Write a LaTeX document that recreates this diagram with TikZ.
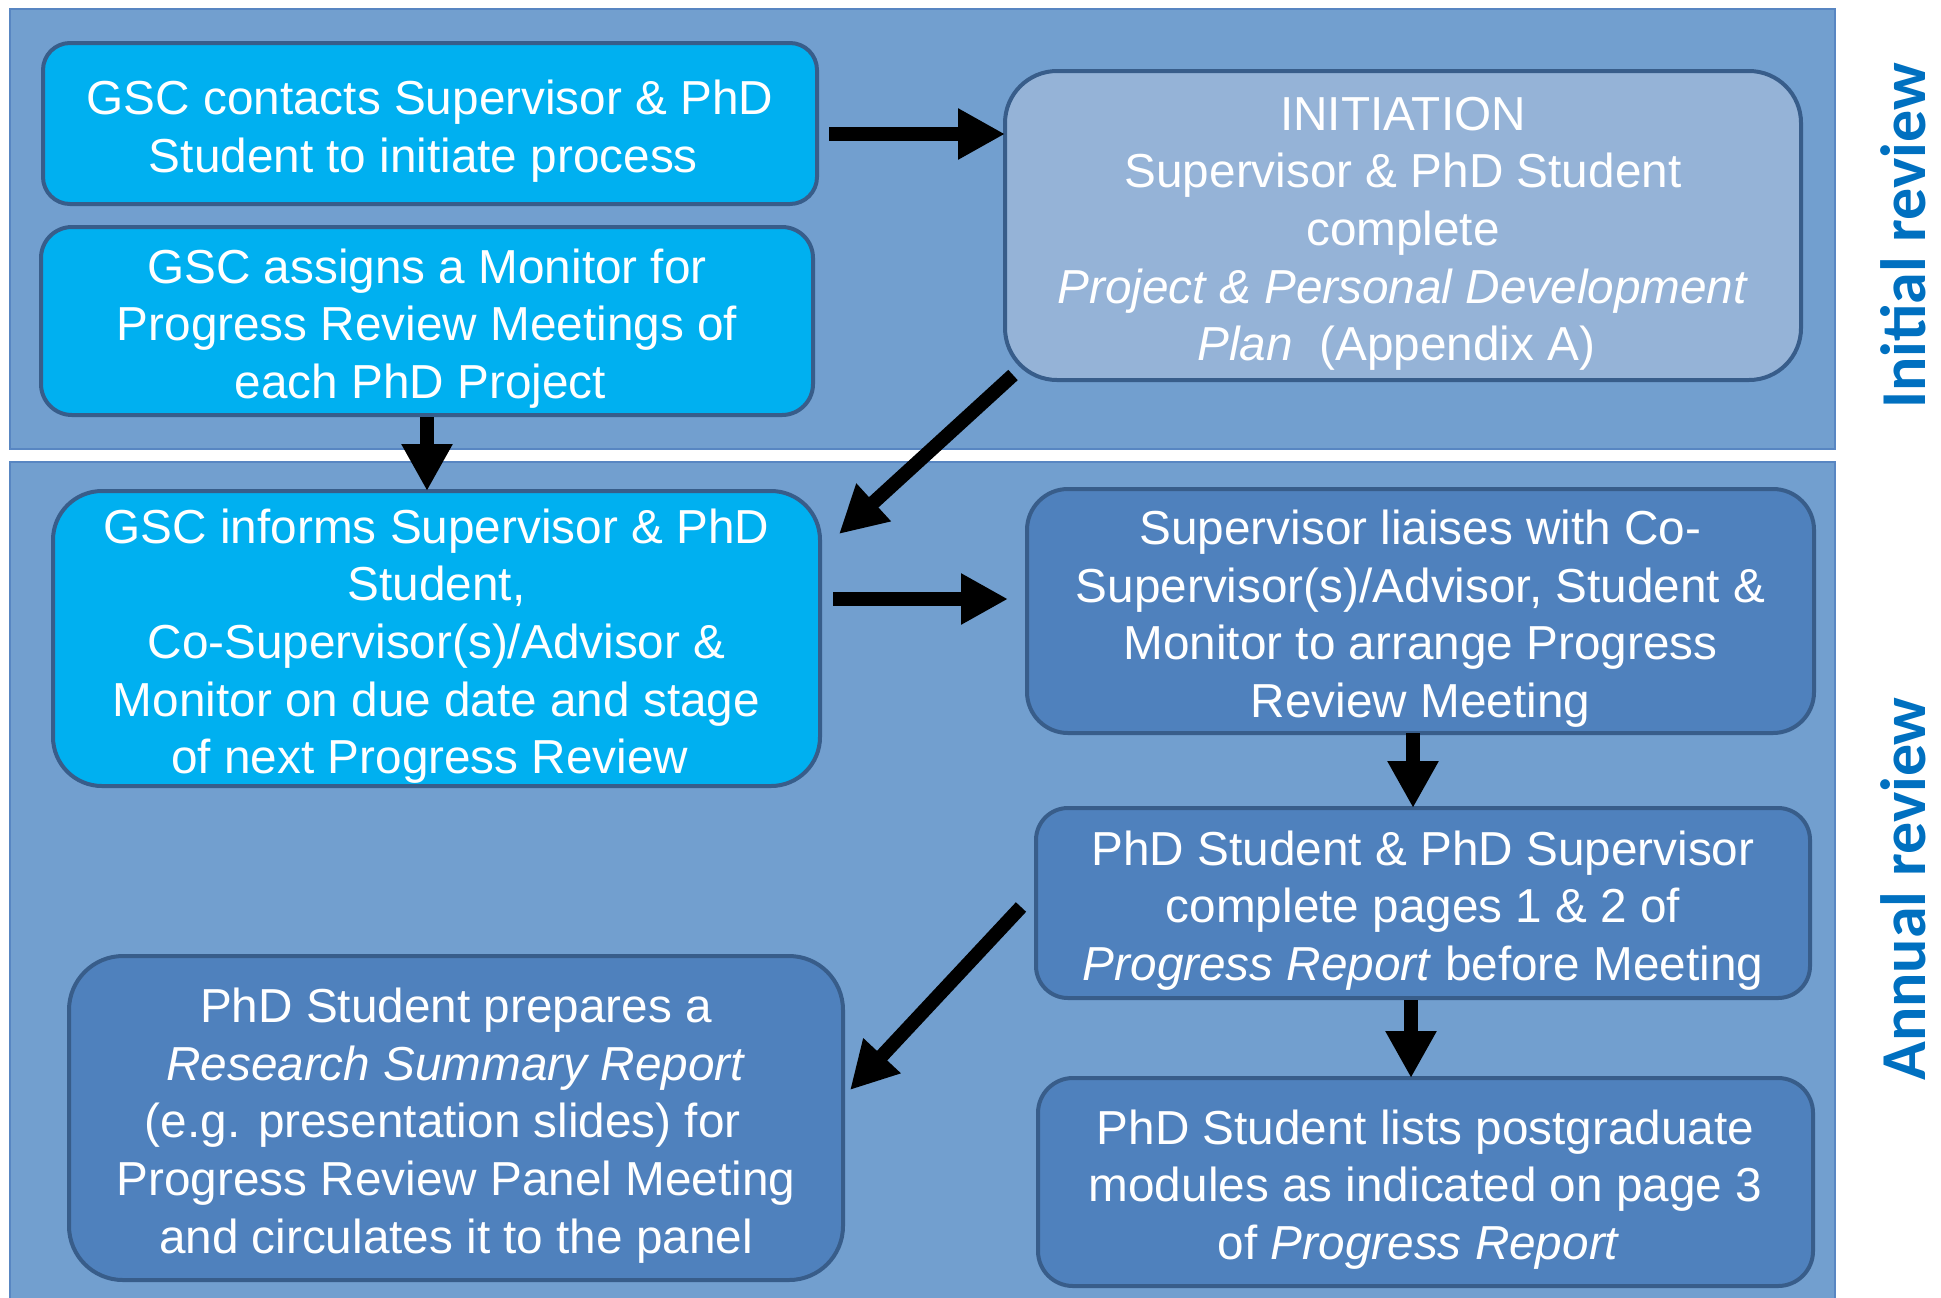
\documentclass[tikz,border=0pt]{standalone}
\usepackage{fontspec}
\setmainfont{Liberation Sans}
\newfontfamily\sidefont{Carlito}
\usetikzlibrary{arrows.meta,calc}
\definecolor{panel}{RGB}{114,159,207}
\definecolor{panelborder}{RGB}{88,134,194}
\definecolor{cyanbox}{RGB}{0,176,240}
\definecolor{lightbox}{RGB}{149,179,215}
\definecolor{midbox}{RGB}{79,129,189}
\definecolor{boxborder}{RGB}{56,93,138}
\definecolor{labelblue}{RGB}{0,112,192}
\newcommand{\tsp}{\hspace*{6.6pt}}
\newcommand{\firstln}{\rule{0pt}{25pt}}
\newcommand{\lastln}{\rule[-5.1pt]{0pt}{0pt}}
\tikzset{
  box/.style={draw=boxborder, line width=2pt, text=white, align=center,
    inner sep=0pt, outer sep=0pt,
    font=\fontsize{23.85pt}{28.8pt}\selectfont},
  arr/.style={line width=7pt, -{Triangle[length=23.5pt,width=24pt]}},
  side/.style={text=labelblue, font=\sidefont\bfseries\fontsize{32pt}{36pt}\selectfont, inner sep=0pt}
}
\begin{document}
\begin{tikzpicture}[x=0.5pt,y=-0.5pt]
\useasboundingbox (0,0) rectangle (1941,1297);
% panels
\fill[panel, draw=panelborder, line width=1pt] (10,9) rectangle (1835,449);
\fill[panel, draw=panelborder, line width=1pt] (10,462) rectangle (1835,1305);
% boxes
\node[box, fill=cyanbox, minimum width=387pt, minimum height=80.5pt, rounded corners=13.5pt] (b1) at (430,123.5)
  {\firstln GSC contacts Supervisor \& PhD\\Student to initiate process\tsp\lastln};
\node[box, fill=cyanbox, minimum width=386pt, minimum height=94pt, rounded corners=15.5pt] (b2) at (427,321)
  {\firstln GSC assigns a Monitor for\\Progress Review Meetings of\\each PhD Project\tsp\lastln};
\node[box, fill=lightbox, minimum width=398pt, minimum height=154.5pt, rounded corners=26pt] (b3) at (1403,225.5)
  {\firstln INITIATION\\Supervisor \& PhD Student\\complete\\\textit{Project \& Personal Development}\\\textit{Plan}~~(Appendix A)\tsp\lastln};
\node[box, fill=cyanbox, minimum width=383.5pt, minimum height=147.5pt, rounded corners=24.5pt] (b4) at (436.5,638.5)
  {\firstln GSC informs Supervisor \& PhD\\Student,\\Co-Supervisor(s)/Advisor \&\\Monitor on due date and stage\\of next Progress Review\tsp\lastln};
\node[box, fill=midbox, minimum width=393.5pt, minimum height=122pt, rounded corners=20.5pt] (b5) at (1420.5,611)
  {\firstln Supervisor liaises with Co-\\Supervisor(s)/Advisor, Student \&\\Monitor to arrange Progress\\Review Meeting\lastln};
\node[box, fill=midbox, minimum width=387pt, minimum height=95pt, rounded corners=16pt] (b6) at (1423,903)
  {\firstln PhD Student \& PhD Supervisor\\complete pages 1 \& 2 of\\\textit{Progress Report} before Meeting\lastln};
\node[box, fill=midbox, minimum width=387.5pt, minimum height=104pt, rounded corners=17.5pt] (b7) at (1425.5,1182)
  {\firstln PhD Student lists postgraduate\\modules as indicated on page 3\\of \textit{Progress Report}\tsp\lastln};
\node[box, fill=midbox, minimum width=387pt, minimum height=162pt, rounded corners=27pt] (b8) at (456,1118)
  {\firstln PhD Student prepares a\\\textit{Research Summary Report}\tsp\\(e.g. presentation slides) for\tsp\tsp\tsp\\Progress Review Panel Meeting\tsp\\and circulates it to the panel\lastln};
% side labels
\node[side, rotate=90, anchor=base] (lab1) at (1925,236) {Initial review};
\node[side, rotate=90, anchor=base] (lab2) at (1925,889) {Annual review};
% arrows
\draw[arr] ($(b1.east)+(12,10.5)$) -- ($(b3.west)+(0,-91.5)$);
\draw[arr] ($(b2.south)+(0,2)$) -- ($(b4.north)+(-9.5,0)$);
\draw[arr] ($(b3.south west)+(8,-5)$) -- ($(b4.north east)+(19,43)$);
\draw[arr] ($(b4.east)+(13,-39.5)$) -- ($(b5.west)+(-19,-12)$);
\draw[arr] ($(b5.south)+(-7.5,0)$) -- ($(b6.north)+(-10,0)$);
\draw[arr] ($(b6.south)+(-12,2)$) -- ($(b7.north)+(-14.5,0)$);
\draw[arr] ($(b6.west)+(-15,4)$) -- ($(b8.east)+(7,-28)$);
\end{tikzpicture}
\end{document}
